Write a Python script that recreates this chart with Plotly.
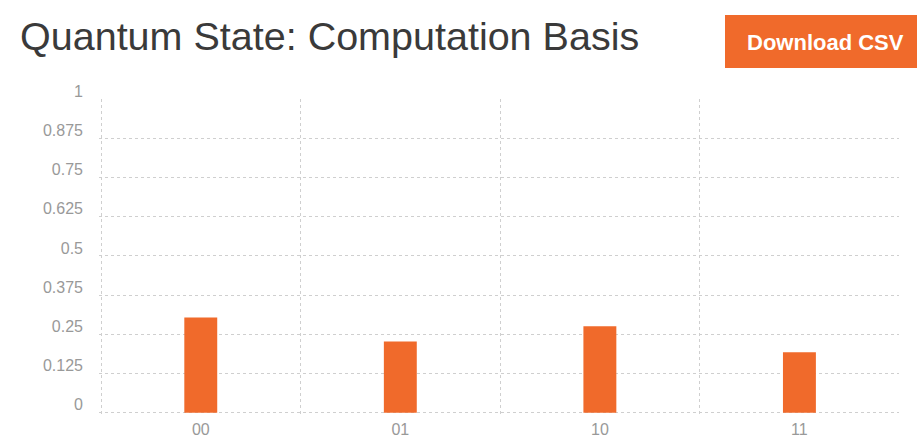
import plotly.graph_objects as go

# Measurement probabilities per computational basis state
states = ["00", "01", "10", "11"]
probabilities = [0.304, 0.227, 0.276, 0.193]
y_ticks = [0, 0.125, 0.25, 0.375, 0.5, 0.625, 0.75, 0.875, 1]
y_tick_labels = ["0", "0.125", "0.25", "0.375", "0.5", "0.625", "0.75", "0.875", "1"]

ORANGE = "#F06A2B"
W, H = 919, 437
L, R, T, B = 99, 20, 99, 22

fig = go.Figure(
    go.Bar(
        x=states,
        y=probabilities,
        marker=dict(color=ORANGE, line=dict(width=0)),
        width=0.165,
        hoverinfo="x+y",
    )
)

plot_w = W - L - R
plot_h = H - T - B


def px_x(x):
    return (x - L) / plot_w


def px_y(y):
    return (H - B - y) / plot_h


GRID = dict(showgrid=True, gridcolor="#cfcfcf", griddash="dot", gridwidth=1)

fig.update_layout(
    width=W,
    height=H,
    margin=dict(l=L, r=R, t=T, b=B, autoexpand=False),
    paper_bgcolor="white",
    plot_bgcolor="white",
    showlegend=False,
    font=dict(family="Liberation Sans, Arial, sans-serif", color="#999999", size=16),
    xaxis=dict(
        type="category",
        range=[-0.51, 3.499],
        tickson="boundaries",
        ticks="",
        ticklen=0,
        showline=False,
        zeroline=False,
        automargin=False,
        ticklabelstandoff=3,
        tickfont=dict(size=16, color="#999999"),
        **GRID,
    ),
    yaxis=dict(
        range=[-0.007, 1.0005],
        tickmode="array",
        tickvals=y_ticks,
        ticktext=y_tick_labels,
        zeroline=False,
        showline=False,
        automargin=False,
        ticks="",
        ticklabelstandoff=15,
        ticklabelshift=-8,
        tickfont=dict(size=16, color="#999999"),
        **GRID,
    ),
    shapes=[
        dict(
            type="rect",
            xref="paper",
            yref="paper",
            x0=px_x(725),
            x1=px_x(917),
            y0=px_y(68),
            y1=px_y(15),
            fillcolor=ORANGE,
            line=dict(width=0),
            layer="above",
        )
    ],
    annotations=[
        dict(
            text="Quantum State: Computation Basis",
            xref="paper",
            yref="paper",
            x=px_x(18),
            y=px_y(36),
            xanchor="left",
            yanchor="middle",
            showarrow=False,
            font=dict(size=39.5, color="#3a3a3a", family="Liberation Sans, Arial, sans-serif"),
        ),
        dict(
            text="<b>Download CSV</b>",
            xref="paper",
            yref="paper",
            x=px_x(825),
            y=px_y(43),
            xanchor="center",
            yanchor="middle",
            showarrow=False,
            font=dict(size=22, color="white", family="Liberation Sans, Arial, sans-serif"),
        ),
    ],
)

fig.write_html("out.html")
